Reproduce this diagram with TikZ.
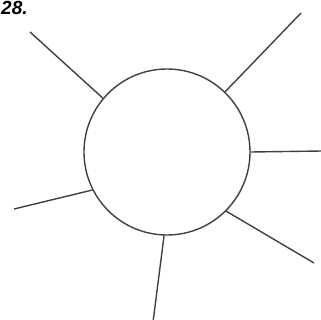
\documentclass[tikz,border=0pt]{standalone}
\usepackage{fontspec}
\setsansfont{Liberation Sans}
\begin{document}
\begin{tikzpicture}[x=1pt,y=-1pt,
  ray/.style={draw=black!75,line width=1.4pt},
  disc/.style={circle,draw=black!75,line width=1.4pt,minimum size=166pt,inner sep=0pt},
  lbl/.style={anchor=base west,inner sep=0pt,font=\sffamily\bfseries\itshape\fontsize{19}{19}\selectfont}]
\useasboundingbox (0,0) rectangle (320,320);
\node[disc] (c) at (167,152) {};
\node[lbl] (t) at (1,15) {28.};
\coordinate (e1) at (30,32);
\coordinate (e2) at (301,13);
\coordinate (e3) at (322,151);
\coordinate (e4) at (314,263);
\coordinate (e5) at (153,322);
\coordinate (e6) at (14,209);
\draw[ray] (c.140) -- (e1);
\draw[ray] (c.46) -- (e2);
\draw[ray] (c.0) -- (e3);
\draw[ray] (c.-45) -- (e4);
\draw[ray] (c.-92) -- (e5);
\draw[ray] (c.-153) -- (e6);
\end{tikzpicture}
\end{document}
